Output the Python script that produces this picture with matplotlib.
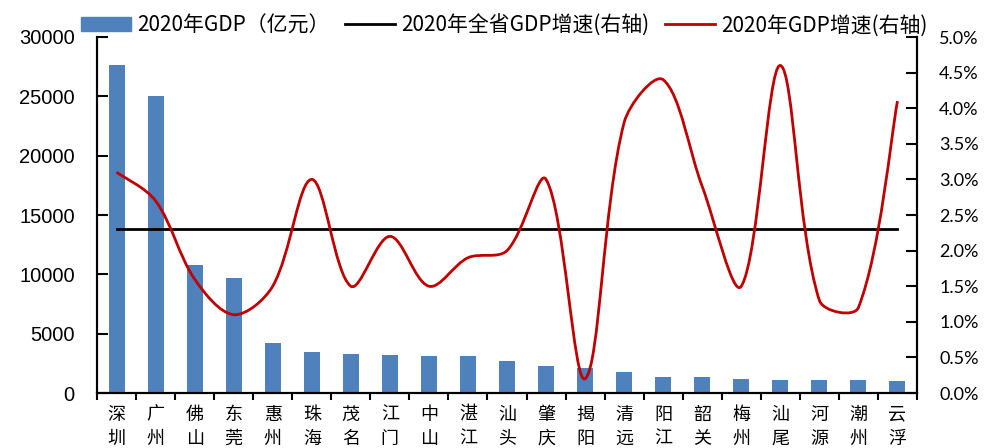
import math
import matplotlib.pyplot as plt
from matplotlib.path import Path
from matplotlib.patches import PathPatch, Patch
from matplotlib.lines import Line2D
from matplotlib.ticker import FixedLocator, PercentFormatter

# 2020年广东各市GDP及增速
cities = ['深圳', '广州', '佛山', '东莞', '惠州', '珠海', '茂名', '江门', '中山', '湛江', '汕头',
          '肇庆', '揭阳', '清远', '阳江', '韶关', '梅州', '汕尾', '河源', '潮州', '云浮']
gdp = [27670, 25019, 10816, 9650, 4222, 3482, 3280, 3201, 3152, 3100, 2730,
       2312, 2102, 1778, 1361, 1354, 1208, 1123, 1102, 1097, 1002]
growth = [3.1, 2.7, 1.6, 1.1, 1.5, 3.0, 1.5, 2.2, 1.5, 1.9, 2.0,
          3.0, 0.2, 3.8, 4.4, 2.9, 1.5, 4.6, 1.3, 1.2, 4.1]
province_growth = 2.3

cjk = ['Noto Sans CJK SC', 'DejaVu Sans']

fig = plt.figure(figsize=(9.86, 4.48), dpi=100)
ax = fig.add_axes([97 / 986, 1 - 393 / 448, (917 - 97) / 986, (393 - 37) / 448])
ax2 = ax.twinx()

x = list(range(len(cities)))
ax.bar(x, gdp, width=0.41, color='#4F81BD', zorder=2)
ax.set_xlim(-0.5, len(cities) - 0.5)
ax.set_ylim(0, 30000)
ax.set_yticks(range(0, 30001, 5000))
for lab in ax.get_yticklabels():
    lab.set_fontfamily('Liberation Sans')
    lab.set_fontsize(14.5)

# category labels at centers, tick marks at boundaries
ax.xaxis.set_major_locator(FixedLocator([i + 0.5 for i in range(-1, len(cities))]))
ax.xaxis.set_minor_locator(FixedLocator(x))
ax.set_xticklabels([])
ax.set_xticklabels(['\n'.join(c) for c in cities], minor=True,
                   fontfamily=cjk, fontsize=13, linespacing=1.45)
ax.tick_params(axis='x', which='major', direction='out', length=5, width=1.5)
ax.tick_params(axis='x', which='minor', length=0, pad=9)
ax.tick_params(axis='y', direction='in', length=8, width=1.5, pad=16)

ax2.set_ylim(0, 5.0)
ax2.set_yticks([i * 0.5 for i in range(11)])
ax2.yaxis.set_major_formatter(PercentFormatter(decimals=1))
ax2.tick_params(axis='y', direction='in', length=8, width=1.5, pad=16)
for lab in ax2.get_yticklabels():
    lab.set_fontfamily('Lato')
    lab.set_fontsize(13)

for a in (ax, ax2):
    a.spines['top'].set_visible(False)
    for s in ('left', 'right', 'bottom'):
        a.spines[s].set_linewidth(1.5)

# province-wide growth
ax2.plot([x[0], x[-1]], [province_growth] * 2, color='black', lw=2, zorder=3)

# smoothed growth curve: cubic Bezier through each city's value,
# tangent lengths weighted by neighbouring segment lengths on screen
pts = list(zip(x, growth))
pix = ax2.transData.transform(pts)
n = len(pts)


def seg_len(i, j):
    return math.hypot(pix[j][0] - pix[i][0], pix[j][1] - pix[i][1])


verts = [pts[0]]
codes = [Path.MOVETO]
for i in range(n - 1):
    a, b = max(i - 1, 0), min(i + 2, n - 1)
    d = seg_len(i, i + 1)
    k1 = d / (seg_len(a, i) + d) / 3 if a != i else 1 / 6
    k2 = d / (d + seg_len(i + 1, b)) / 3 if b != i + 1 else 1 / 6
    t1 = (pts[i + 1][0] - pts[a][0], pts[i + 1][1] - pts[a][1])
    t2 = (pts[b][0] - pts[i][0], pts[b][1] - pts[i][1])
    c1 = (pts[i][0] + t1[0] * k1, pts[i][1] + t1[1] * k1)
    c2 = (pts[i + 1][0] - t2[0] * k2, pts[i + 1][1] - t2[1] * k2)
    verts += [c1, c2, pts[i + 1]]
    codes += [Path.CURVE4] * 3
ax2.add_patch(PathPatch(Path(verts, codes), facecolor='none',
                        edgecolor='#C00000', lw=2, zorder=4))

handles = [Patch(color='#4F81BD'),
           Line2D([], [], color='black', lw=2),
           Line2D([], [], color='#C00000', lw=2)]
labels = ['2020年GDP（亿元）', '2020年全省GDP增速(右轴)', '2020年GDP增速(右轴)']
fig.legend(handles, labels, loc='upper left', bbox_to_anchor=(0.063, 1.01), ncol=3,
           frameon=False, prop={'family': cjk, 'size': 15},
           handlelength=2.4, handleheight=0.7, columnspacing=0.75, handletextpad=0.3)

fig.savefig('out.png', dpi=100)
